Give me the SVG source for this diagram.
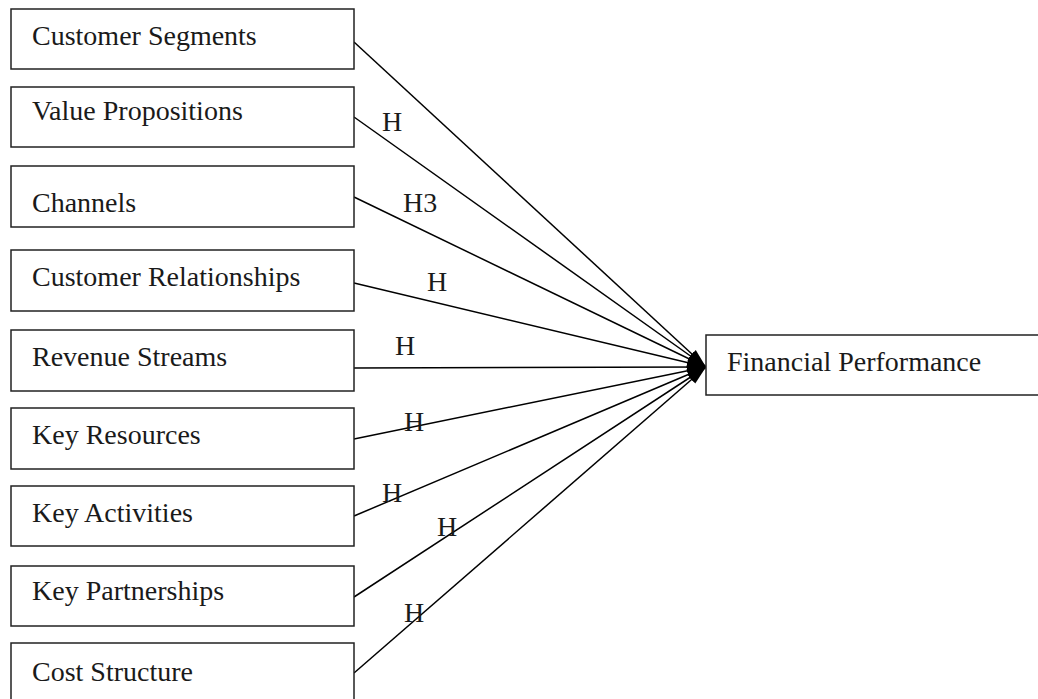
<svg xmlns="http://www.w3.org/2000/svg" width="1038" height="699" viewBox="0 0 1038 699">
<style>
.box{fill:#fff;stroke:#222;stroke-width:1.5}
.t{font-family:"Liberation Serif","Times New Roman",serif;font-size:28px;fill:#1a1a1a}
.c{stroke:#000;stroke-width:1.5;fill:none;marker-end:url(#ah)}
</style>
<defs>
<marker id="ah" markerUnits="userSpaceOnUse" markerWidth="20" markerHeight="12" refX="19" refY="6" orient="auto">
<path d="M0,0.5 L19,6 L0,11.5 z" fill="#000"/>
</marker>
</defs>
<rect width="1038" height="699" fill="#fff"/>
<g id="connectors">
<line class="c" x1="354" y1="42" x2="706" y2="367"/>
<line class="c" x1="354" y1="117" x2="706" y2="367"/>
<line class="c" x1="354" y1="197" x2="706" y2="367"/>
<line class="c" x1="354" y1="283" x2="706" y2="367"/>
<line class="c" x1="354" y1="368" x2="706" y2="367"/>
<line class="c" x1="354" y1="439" x2="706" y2="367"/>
<line class="c" x1="354" y1="516" x2="706" y2="367"/>
<line class="c" x1="354" y1="597" x2="706" y2="367"/>
<line class="c" x1="354" y1="673" x2="706" y2="367"/>
</g>
<g id="labels">
<text class="t" x="382" y="131">H</text>
<text class="t" x="403" y="212">H3</text>
<text class="t" x="427" y="291">H</text>
<text class="t" x="395" y="355">H</text>
<text class="t" x="404" y="431">H</text>
<text class="t" x="382" y="502">H</text>
<text class="t" x="437" y="536">H</text>
<text class="t" x="404" y="622">H</text>
</g>
<g id="n1"><rect class="box" x="11" y="9" width="343" height="60"/><text class="t" x="32" y="45">Customer Segments</text></g>
<g id="n2"><rect class="box" x="11" y="87" width="343" height="60"/><text class="t" x="32" y="120">Value Propositions</text></g>
<g id="n3"><rect class="box" x="11" y="166" width="343" height="61"/><text class="t" x="32" y="212">Channels</text></g>
<g id="n4"><rect class="box" x="11" y="250" width="343" height="61"/><text class="t" x="32" y="286">Customer Relationships</text></g>
<g id="n5"><rect class="box" x="11" y="330" width="343" height="61"/><text class="t" x="32" y="366">Revenue Streams</text></g>
<g id="n6"><rect class="box" x="11" y="408" width="343" height="61"/><text class="t" x="32" y="444">Key Resources</text></g>
<g id="n7"><rect class="box" x="11" y="486" width="343" height="60"/><text class="t" x="32" y="522">Key Activities</text></g>
<g id="n8"><rect class="box" x="11" y="566" width="343" height="60"/><text class="t" x="32" y="600">Key Partnerships</text></g>
<g id="n9"><rect class="box" x="11" y="643" width="343" height="60"/><text class="t" x="32" y="681">Cost Structure</text></g>
<g id="n10"><rect class="box" x="706" y="335" width="340" height="60"/><text class="t" x="727" y="371">Financial Performance</text></g>
</svg>
